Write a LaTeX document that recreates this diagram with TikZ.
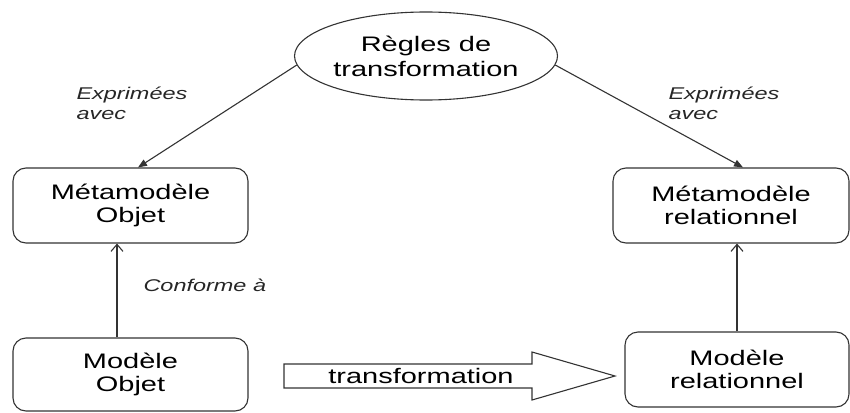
\documentclass[tikz,border=0pt]{standalone}
\usepackage{fontspec}
\setmainfont{Liberation Sans}[FakeStretch=1.38]
\usetikzlibrary{arrows.meta,shapes.geometric}
\definecolor{ln}{HTML}{333333}
\begin{document}
\begin{tikzpicture}[x=1pt,y=-1pt,
  box/.style={draw=ln,line width=1.1pt,rounded corners=13pt,align=center,
    font=\fontsize{21}{23}\selectfont,inner sep=0pt},
  lbl/.style={font=\fontsize{17}{20}\selectfont\itshape,align=left,anchor=west,text=black!85},
  fil/.style={draw=ln,line width=1.1pt,-{Triangle[length=9pt,width=7pt]}},
  opn/.style={draw=ln,line width=1.1pt,-{Straight Barb[length=7pt,width=12pt]}}]
\useasboundingbox (0,0) rectangle (850,412);
\node[ellipse,draw=ln,line width=1.1pt,minimum width=263pt,minimum height=88pt,inner sep=0pt,
  align=center,font=\fontsize{21}{25}\selectfont] (rules) at (426,56) {Règles de\\transformation};
\node[box,minimum width=235pt,minimum height=75pt] (mo) at (130.5,205.5) {Métamodèle\\Objet};
\node[box,minimum width=236pt,minimum height=75pt] (mr) at (731,205.5) {Métamodèle\\relationnel};
\node[box,minimum width=235pt,minimum height=73pt] (mdo) at (130.5,374.5) {Modèle\\Objet};
\node[box,minimum width=224pt,minimum height=75pt] (mdr) at (737,369.5) {Modèle\\relationnel};
\draw[fil] (rules.184) -- ([xshift=7.5pt]mo.north);
\draw[fil] (rules.356) -- ([xshift=12pt]mr.north);
\draw[opn] ([xshift=-13.5pt]mdo.north) -- ([xshift=-13.5pt]mo.south);
\draw[opn] (mdr.north) -- ([xshift=6pt]mr.south);
\draw[draw=ln,line width=1.1pt] (284,364) -- (532,364) -- (532,352) -- (615,376) -- (532,400) -- (532,388) -- (284,388) -- cycle;
\node[font=\fontsize{21}{23}\selectfont,inner sep=0pt] (tr) at (421,376) {transformation};
\node[lbl] (e1) at (73,103) {Exprimées\\avec};
\node[lbl] (e2) at (665,103) {Exprimées\\avec};
\node[lbl] (cf) at (140,285) {Conforme à};
\end{tikzpicture}
\end{document}
